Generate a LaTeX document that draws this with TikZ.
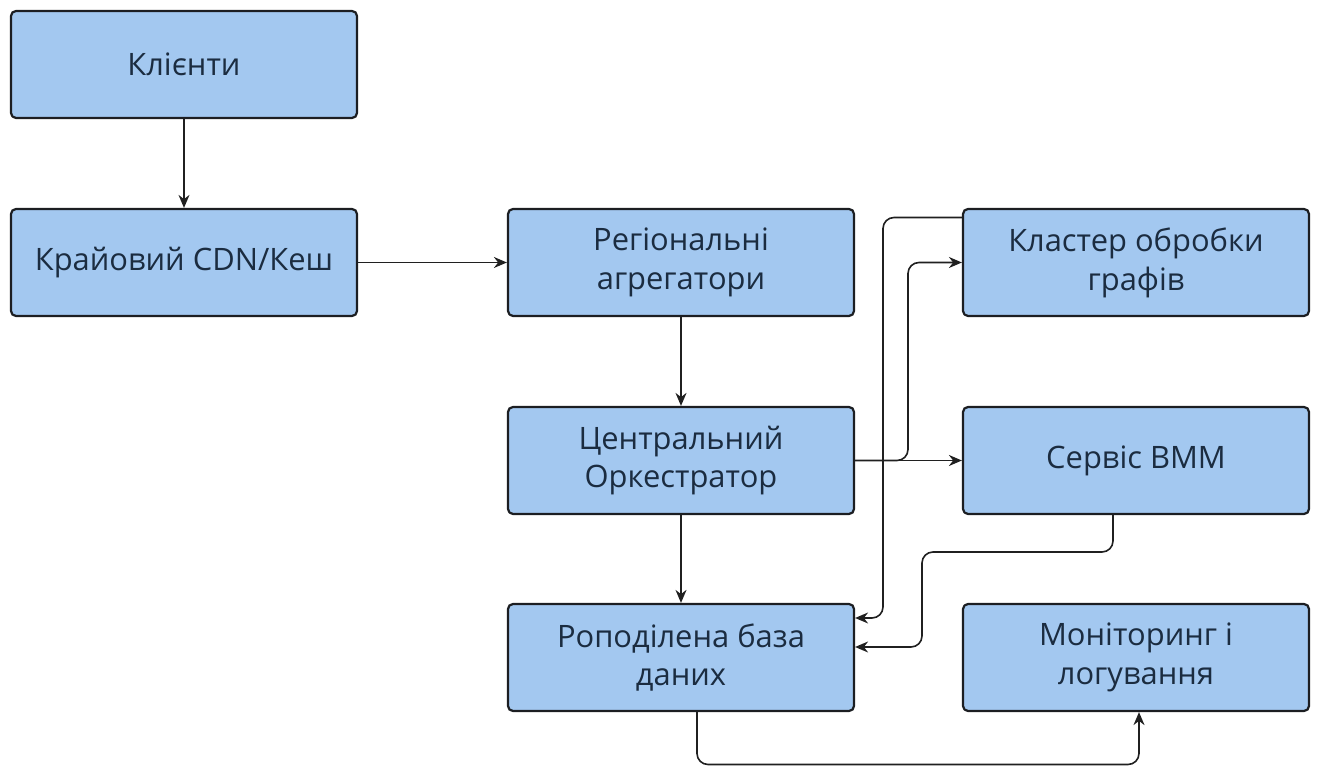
\documentclass[tikz,border=0pt]{standalone}
\usepackage{fontspec}
\setmainfont{Open Sans}
\usetikzlibrary{arrows.meta}
\definecolor{boxfill}{HTML}{A3C8F0}
\definecolor{boxline}{HTML}{1C1E22}
\definecolor{boxtext}{HTML}{1B2C40}
\definecolor{wirecol}{HTML}{202020}
\tikzset{
  block/.style={draw=boxline,fill=boxfill,line width=2.2bp,rounded corners=5bp,
    minimum width=346bp,minimum height=107bp,inner sep=0pt,align=center,
    text=boxtext,font=\fontsize{31}{39}\selectfont},
  wire/.style={draw=wirecol,line width=1.6bp,rounded corners=11bp,-{Stealth[length=13bp,width=11bp]}}
}
\begin{document}
\begin{tikzpicture}[line join=round]
\useasboundingbox (0bp,0bp) rectangle (1317bp,767bp);
%%
\node (node_0) at (184bp,702.5bp) [block] {Клієнти};
  \node (node_1) at (184bp,504.5bp) [block] {Крайовий CDN/Кеш};
  \node (node_2) at (681bp,504.5bp) [block] {Регіональні\\агрегатори};
  \node (node_3) at (681bp,306.5bp) [block] {Центральний\\Оркестратор};
  \node (node_4) at (681bp,109.5bp) [block] {Роподілена база\\даних};
  \node (node_5) at (1136bp,504.5bp) [block] {Кластер обробки\\графів};
  \node (node_6) at (1136bp,306.5bp) [block] {Сервіс BMM};
  \node (node_7) at (1136bp,109.5bp) [block] {Моніторинг і\\логування};
  \draw [wire] (node_0) -- (node_1);
  \draw [wire] (node_1) -- (node_2);
  \draw [wire] (node_2) -- (node_3);
  \draw [wire] (node_3) -- (node_4);
  \draw [wire] (node_3) -- (node_6);
  \draw [wire] (node_3.east) -- (908bp,306.5bp) |- (node_5.west);
  \draw [wire] ([yshift=45bp]node_5.west) -- (883bp,549.5bp) |- ([yshift=39.5bp]node_4.east);
  \draw [wire] ([xshift=-23bp]node_6.south) |- (922bp,215bp) |- ([yshift=10.5bp]node_4.east);
  \draw [wire] ([xshift=16bp]node_4.south) |- (1139bp,2.5bp) -- ([xshift=3bp]node_7.south);
%
\end{tikzpicture}
\end{document}
